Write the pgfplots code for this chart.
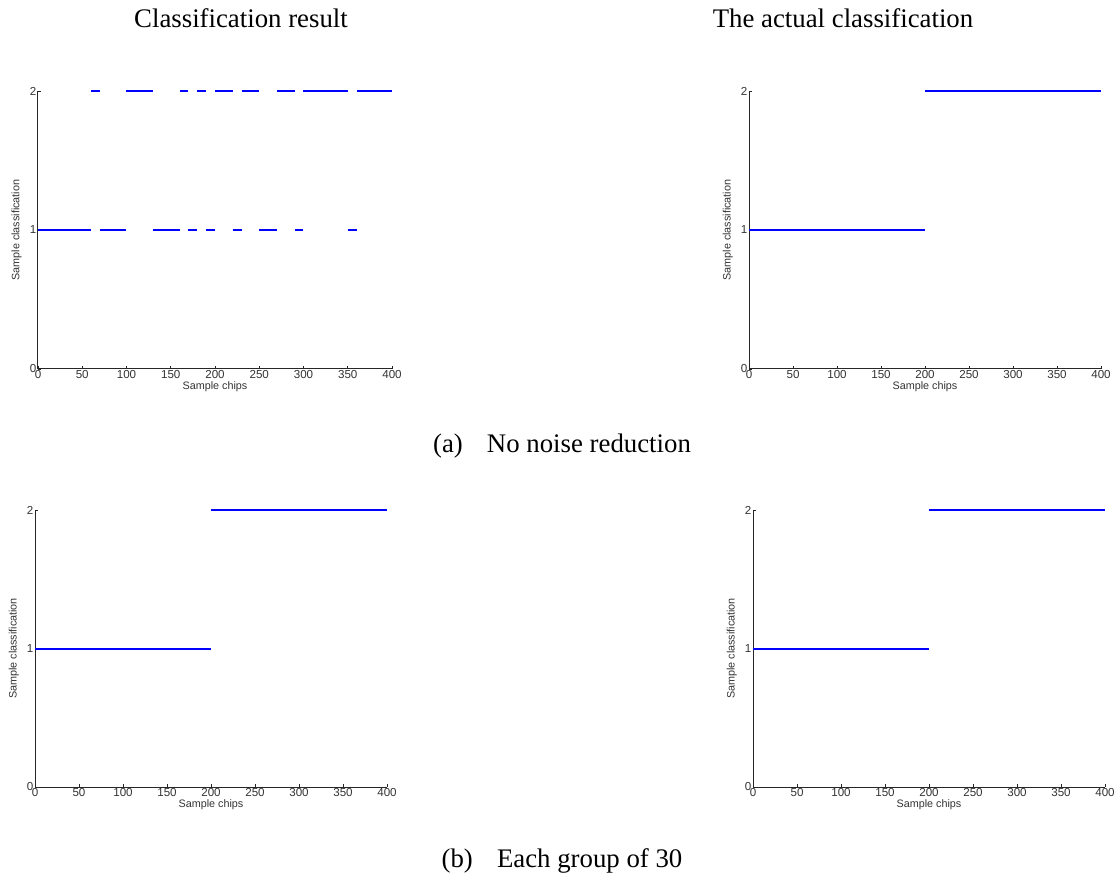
\documentclass[border=0pt]{standalone}
\usepackage{fontspec}
\setmainfont{Liberation Serif}
\newfontfamily\axfont{Liberation Sans}
\usepackage{pgfplots}
\pgfplotsset{compat=1.18}
\definecolor{mblue}{RGB}{0,0,255}
\pgfplotsset{
  mat/.style={
    scale only axis,
    xmin=0, xmax=400, ymin=0, ymax=2,
    xtick={0,50,...,400}, ytick={0,1,2},
    axis x line*=bottom, axis y line*=left,
    axis line style={-, line width=0.5pt, black!85},
    tick align=inside,
    major tick length=1.6pt,
    tick style={black!85, line width=0.4pt},
    /pgf/number format/assume math mode=true,
    tick label style={font=\axfont\fontsize{5.8}{7}\selectfont, black!80, inner sep=0.6pt},
    label style={font=\axfont\fontsize{5.4}{6.5}\selectfont, black!80},
    xlabel={Sample chips},
    ylabel={Sample classification},
    xlabel style={at={(axis description cs:0.5,0)}, anchor=north, yshift=-6.3pt, inner sep=0pt},
    ylabel style={at={(axis description cs:-0.045,0.5)}, anchor=south, inner sep=0pt},
    clip=false,
    unbounded coords=jump,
  },
  seg/.style={mblue, line width=1pt, no markers},
}
\begin{document}
\begin{tikzpicture}
\path[use as bounding box] (0,0) rectangle (557.5pt,439.5pt);
% titles
\node[anchor=base, font=\fontsize{13.4}{15}\selectfont] at (120.5pt,425.5pt) {Classification result};
\node[anchor=base, font=\fontsize{13.4}{15}\selectfont] at (421.5pt,425.5pt) {The actual classification};
\node[anchor=base, font=\fontsize{13.4}{15}\selectfont] at (281pt,213pt) {(a)\hspace{0.9em}No noise reduction};
\node[anchor=base, font=\fontsize{13.4}{15}\selectfont] at (281pt,5.5pt) {(b)\hspace{0.9em}Each group of 30};
% top left
\begin{axis}[mat, at={(19pt,255pt)}, anchor=south west, width=177pt, height=139pt]
\addplot[seg] coordinates {(0,1) (60,1) (nan,nan) (70,1) (100,1) (nan,nan) (130,1) (160,1) (nan,nan) (170,1) (180,1) (nan,nan) (190,1) (200,1) (nan,nan) (220,1) (230,1) (nan,nan) (250,1) (270,1) (nan,nan) (290,1) (300,1) (nan,nan) (350,1) (360,1)};
\addplot[seg] coordinates {(60,2) (70,2) (nan,nan) (100,2) (130,2) (nan,nan) (160,2) (170,2) (nan,nan) (180,2) (190,2) (nan,nan) (200,2) (220,2) (nan,nan) (230,2) (250,2) (nan,nan) (270,2) (290,2) (nan,nan) (300,2) (350,2) (nan,nan) (360,2) (400,2)};
\end{axis}
% top right
\begin{axis}[mat, at={(374.5pt,255pt)}, anchor=south west, width=176pt, height=139pt]
\addplot[seg] coordinates {(0,1) (200,1)};
\addplot[seg] coordinates {(200,2) (400,2)};
\end{axis}
% bottom left
\begin{axis}[mat, at={(17.5pt,46pt)}, anchor=south west, width=176pt, height=138.5pt]
\addplot[seg] coordinates {(0,1) (200,1)};
\addplot[seg] coordinates {(200,2) (400,2)};
\end{axis}
% bottom right
\begin{axis}[mat, at={(376.5pt,46pt)}, anchor=south west, width=176pt, height=138.5pt]
\addplot[seg] coordinates {(0,1) (200,1)};
\addplot[seg] coordinates {(200,2) (400,2)};
\end{axis}
\end{tikzpicture}
\end{document}
